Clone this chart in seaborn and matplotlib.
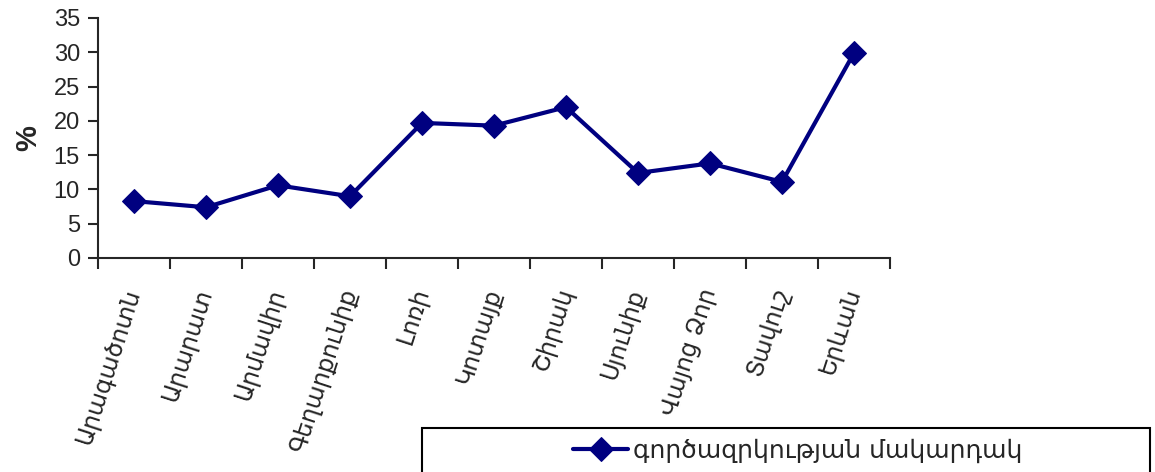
import pandas as pd
import seaborn as sns
import numpy as np
import matplotlib.pyplot as plt
from matplotlib.patches import Rectangle

regions = ['Արագածոտն', 'Արարատ', 'Արմավիր', 'Գեղարքունիք', 'Լոռի', 'Կոտայք',
           'Շիրակ', 'Սյունիք', 'Վայոց Ձոր', 'Տավուշ', 'Երևան']
unemployment = [8.3, 7.4, 10.6, 9.0, 19.7, 19.3, 22.0, 12.4, 13.8, 11.1, 29.9]
series_name = 'գործազրկության մակարդակ'

df = pd.DataFrame({'region': regions, 'pos': np.arange(len(regions)), 'value': unemployment})

sns.set_style('ticks')
plt.rcParams['font.family'] = ['Liberation Sans', 'DejaVu Sans']

fig = plt.figure(figsize=(11.55, 4.72), dpi=100)
ax = fig.add_axes([98/1155, 1-258/472, 792/1155, 240/472])

navy = '#000080'
sns.lineplot(x='pos', y='value', data=df, color=navy, linewidth=3.0, marker='D',
             markersize=12, markeredgecolor=navy, sort=False, label=series_name, ax=ax)

ax.set_xlim(-0.5, len(regions) - 0.5)
ax.set_ylim(0, 35)
ax.set_yticks(np.arange(0, 36, 5))
ax.set_xticks(np.arange(-0.5, len(regions), 1))
ax.set_xticklabels([])
ax.set_xticks(np.arange(len(regions)), minor=True)
ax.set_xticklabels(regions, minor=True, rotation=72, ha='right', va='center',
                   rotation_mode='anchor', fontsize=17, family=['DejaVu Sans'])
ax.tick_params(axis='x', which='minor', length=0, pad=22)
ax.tick_params(axis='x', which='major', length=8, width=1.5, direction='out')
ax.tick_params(axis='y', length=7, width=1.5, labelsize=17, pad=6)
for s in ['top', 'right']:
    ax.spines[s].set_visible(False)
for s in ['left', 'bottom']:
    ax.spines[s].set_linewidth(1.5)

ax.set_xlabel('')
ax.set_ylabel('%', fontsize=21, fontweight='bold', labelpad=8)

ax.get_legend().remove()
fig.patches.append(Rectangle((422/1155, -0.05), 728/1155, 1-428/472+0.05,
                             transform=fig.transFigure, fill=False, edgecolor='black',
                             linewidth=1.5))
h, l = ax.get_legend_handles_labels()
fig.legend(h, l, loc='center', bbox_to_anchor=(798/1155, 1-451/472), frameon=False,
           prop={'family': ['DejaVu Sans'], 'size': 18}, handlelength=2.2,
           handletextpad=0.2)

plt.savefig('out.png', dpi=100)
